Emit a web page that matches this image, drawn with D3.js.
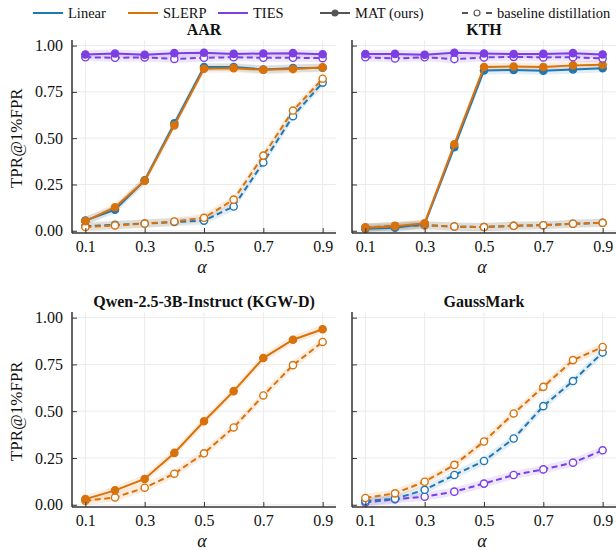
<!DOCTYPE html>
<html><head><meta charset="utf-8">
<script src="https://cdn.jsdelivr.net/npm/d3@7"></script>
<style>
html,body{margin:0;padding:0;background:#fff;}
svg{display:block;}
</style></head>
<body>
<script>
// ---------- DATA ----------
const alphas = [0.1, 0.2, 0.3, 0.4, 0.5, 0.6, 0.7, 0.8, 0.9];
const xTicks = [0.1, 0.3, 0.5, 0.7, 0.9];
const yTicks = [0.00, 0.25, 0.50, 0.75, 1.00];
const methods = ["Linear", "SLERP", "TIES"];
const panelTitles = ["AAR", "KTH", "Qwen-2.5-3B-Instruct (KGW-D)", "GaussMark"];

// AAR
const aarLinearMAT   = [0.055, 0.114, 0.272, 0.580, 0.884, 0.884, 0.871, 0.878, 0.880];
const aarSlerpMAT    = [0.052, 0.127, 0.270, 0.569, 0.875, 0.878, 0.869, 0.873, 0.882];
const aarTiesMAT     = [0.952, 0.957, 0.950, 0.959, 0.961, 0.955, 0.957, 0.959, 0.953];
const aarLinearBase  = [0.025, 0.032, 0.039, 0.047, 0.055, 0.131, 0.369, 0.619, 0.800];
const aarSlerpBase   = [0.020, 0.029, 0.039, 0.050, 0.070, 0.168, 0.406, 0.649, 0.821];
const aarTiesBase    = [0.937, 0.934, 0.936, 0.928, 0.934, 0.937, 0.934, 0.934, 0.932];
// KTH
const kthLinearMAT   = [0.011, 0.016, 0.038, 0.451, 0.866, 0.868, 0.864, 0.871, 0.878];
const kthSlerpMAT    = [0.016, 0.025, 0.041, 0.467, 0.884, 0.887, 0.884, 0.893, 0.896];
const kthTiesMAT     = [0.954, 0.955, 0.950, 0.961, 0.957, 0.954, 0.955, 0.959, 0.952];
const kthLinearBase  = [0.018, 0.025, 0.030, 0.023, 0.020, 0.027, 0.030, 0.038, 0.043];
const kthSlerpBase   = [0.018, 0.025, 0.030, 0.023, 0.020, 0.027, 0.030, 0.038, 0.043];
const kthTiesBase    = [0.937, 0.930, 0.937, 0.927, 0.936, 0.939, 0.936, 0.937, 0.930];
// Qwen (KGW-D)
const qwenSlerpMAT   = [0.030, 0.077, 0.138, 0.277, 0.446, 0.607, 0.784, 0.882, 0.938];
const qwenSlerpBase  = [0.021, 0.039, 0.091, 0.166, 0.275, 0.413, 0.584, 0.746, 0.870];
// GaussMark
const gmLinearBase   = [0.020, 0.032, 0.080, 0.159, 0.234, 0.354, 0.527, 0.661, 0.814];
const gmSlerpBase    = [0.036, 0.061, 0.123, 0.213, 0.338, 0.488, 0.630, 0.773, 0.843];
const gmTiesBase     = [0.012, 0.029, 0.043, 0.070, 0.113, 0.159, 0.189, 0.225, 0.291];
// shaded band half-width (std)
const bandHalf = 0.022;

// ---------- STYLE ----------
const colors = {Linear: "#1f77b4", SLERP: "#d9720b", TIES: "#7b3fe4"};

// pick an installed serif font
function pickFont(cands) {
  const ctx = document.createElement("canvas").getContext("2d");
  const s = "Qwen-2.5 TPR@1%FPR 0.75 abcdefghijk";
  const base = {};
  ["monospace", "sans-serif"].forEach(b => { ctx.font = "40px " + b; base[b] = ctx.measureText(s).width; });
  for (const c of cands) {
    let ok = true;
    for (const b of ["monospace", "sans-serif"]) {
      ctx.font = `40px "${c}", ${b}`;
      if (Math.abs(ctx.measureText(s).width - base[b]) < 0.01) ok = false;
    }
    if (ok) return `"${c}", serif`;
  }
  return "serif";
}
const FONT = pickFont(["Liberation Serif", "Times New Roman", "Tinos", "Nimbus Roman", "Nimbus Roman No9 L", "Noto Serif", "DejaVu Serif", "FreeSerif"]);

const panels = [
  {title: panelTitles[0], series: [
    {m:"Linear", kind:"base", v:aarLinearBase}, {m:"SLERP", kind:"base", v:aarSlerpBase},
    {m:"Linear", kind:"mat", v:aarLinearMAT}, {m:"SLERP", kind:"mat", v:aarSlerpMAT},
    {m:"TIES", kind:"base", v:aarTiesBase}, {m:"TIES", kind:"mat", v:aarTiesMAT}]},
  {title: panelTitles[1], series: [
    {m:"Linear", kind:"base", v:kthLinearBase}, {m:"SLERP", kind:"base", v:kthSlerpBase},
    {m:"Linear", kind:"mat", v:kthLinearMAT}, {m:"SLERP", kind:"mat", v:kthSlerpMAT},
    {m:"TIES", kind:"base", v:kthTiesBase}, {m:"TIES", kind:"mat", v:kthTiesMAT}]},
  {title: panelTitles[2], series: [
    {m:"SLERP", kind:"base", v:qwenSlerpBase}, {m:"SLERP", kind:"mat", v:qwenSlerpMAT}]},
  {title: panelTitles[3], series: [
    {m:"TIES", kind:"base", v:gmTiesBase}, {m:"Linear", kind:"base", v:gmLinearBase},
    {m:"SLERP", kind:"base", v:gmSlerpBase}]}
];

const W = 616, H = 550;
const svg = d3.select("body").append("svg").attr("width", W).attr("height", H)
  .style("font-family", FONT);

const cols = [[72, 336], [352, 616]];
const rows = [[40, 233], [312, 507]];

panels.forEach((p, i) => {
  const c = cols[i % 2], r = rows[Math.floor(i / 2)];
  const x = d3.scaleLinear().domain([0.055, 0.945]).range(c);
  const y = d3.scaleLinear().domain([-0.012, 1.03]).range([r[1], r[0]]);
  const g = svg.append("g");

  // grid
  g.selectAll(".gx").data(xTicks).join("line")
    .attr("x1", d => x(d)).attr("x2", d => x(d)).attr("y1", r[0]).attr("y2", r[1])
    .attr("stroke", "#ebebeb").attr("stroke-width", 1);
  g.selectAll(".gy").data(yTicks).join("line")
    .attr("y1", d => y(d)).attr("y2", d => y(d)).attr("x1", c[0]).attr("x2", c[1])
    .attr("stroke", "#ebebeb").attr("stroke-width", 1);

  // bands
  p.series.forEach(s => {
    const area = d3.area().x((d, k) => x(alphas[k]))
      .y0(d => y(Math.max(d - bandHalf, -0.01))).y1(d => y(d + bandHalf));
    g.append("path").attr("d", area(s.v)).attr("fill", colors[s.m]).attr("opacity", 0.13);
  });
  // lines + markers
  p.series.forEach(s => {
    const line = d3.line().x((d, k) => x(alphas[k])).y(d => y(d));
    g.append("path").attr("d", line(s.v)).attr("fill", "none")
      .attr("stroke", colors[s.m]).attr("stroke-width", 2)
      .attr("stroke-dasharray", s.kind === "base" ? "6,3.5" : null);
    g.selectAll(null).data(s.v).join("circle")
      .attr("cx", (d, k) => x(alphas[k])).attr("cy", d => y(d))
      .attr("r", 3.6)
      .attr("fill", s.kind === "base" ? "#fff" : colors[s.m])
      .attr("stroke", colors[s.m]).attr("stroke-width", 1.4);
  });

  // axes
  const xAxis = d3.axisBottom(x).tickValues(xTicks).tickSize(-5).tickPadding(8)
    .tickFormat(d3.format(".1f"));
  const gx = svg.append("g").attr("transform", `translate(0,${r[1]})`).call(xAxis)
    .attr("font-family", FONT);
  gx.select(".domain").attr("d", `M${c[0]},0H${c[1]}`).attr("stroke", "#333").attr("stroke-width", 1.5);
  gx.selectAll(".tick line").attr("stroke", "#333");
  gx.selectAll("text").attr("font-size", 16).attr("fill", "#111");

  const yAxis = d3.axisLeft(y).tickValues(yTicks).tickSize(-5).tickPadding(9)
    .tickFormat(i % 2 === 0 ? d3.format(".2f") : () => "");
  const gy = svg.append("g").attr("transform", `translate(${c[0]},0)`).call(yAxis)
    .attr("font-family", FONT);
  gy.select(".domain").attr("d", `M0,${r[0]}V${r[1]}`).attr("stroke", "#333").attr("stroke-width", 1.5);
  gy.selectAll(".tick line").attr("stroke", "#333");
  gy.selectAll("text").attr("font-size", 16).attr("fill", "#111");

  // title
  svg.append("text").attr("x", (c[0] + c[1]) / 2).attr("y", r[0] - 5)
    .attr("text-anchor", "middle").attr("font-weight", "bold").attr("font-size", 16)
    .attr("fill", "#111").text(p.title);
  // x label
  svg.append("text").attr("x", (c[0] + c[1]) / 2 - 2).attr("y", r[1] + 40)
    .attr("text-anchor", "middle").attr("font-style", "italic").attr("font-size", 18)
    .attr("fill", "#111").text("α");
  // y label
  if (i % 2 === 0) {
    svg.append("text").attr("transform", `translate(22,${(y(0) + y(1)) / 2}) rotate(-90)`)
      .attr("text-anchor", "middle").attr("font-size", 17).attr("fill", "#111")
      .text("TPR@1%FPR");
  }
});

// legend
const leg = svg.append("g").attr("transform", "translate(0,13)");
const legItems = [
  {x: 33, label: "Linear", color: colors.Linear, type: "line"},
  {x: 128, label: "SLERP", color: colors.SLERP, type: "line"},
  {x: 218, label: "TIES", color: colors.TIES, type: "line"},
  {x: 320, label: "MAT (ours)", color: "#555", type: "mat"},
  {x: 462, label: "baseline distillation", color: "#555", type: "base"}
];
legItems.forEach(it => {
  leg.append("line").attr("x1", it.x).attr("x2", it.x + 30).attr("y1", 0).attr("y2", 0)
    .attr("stroke", it.color).attr("stroke-width", 2)
    .attr("stroke-dasharray", it.type === "base" ? "6,6" : null);
  if (it.type !== "line") {
    leg.append("circle").attr("cx", it.x + 15).attr("cy", 0).attr("r", 3)
      .attr("fill", it.type === "base" ? "#fff" : it.color)
      .attr("stroke", it.color).attr("stroke-width", 1.2);
  }
  leg.append("text").attr("x", it.x + 35).attr("y", 5).attr("font-size", 14.5)
    .attr("fill", "#111").text(it.label);
});
</script>
</body></html>
